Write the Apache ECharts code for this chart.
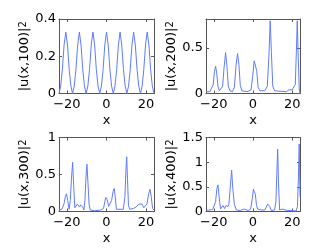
<!DOCTYPE html>
<html><head><meta charset="utf-8">
<script src="https://cdn.jsdelivr.net/npm/echarts@6/dist/echarts.min.js"></script>
<style>html,body{margin:0;padding:0;background:#fff}#c{width:332px;height:250px}</style>
</head><body><div id="c"></div>
<script>
// x range and ticks
const xRange = [-24, 24];
const xTicks = [-20, 0, 20];
const titles = ['|u(x,100)|', '|u(x,200)|', '|u(x,300)|', '|u(x,400)|'];
const yMax = [0.4, 0.82, 1, 1.5];
const yTicks = [[0, 0.2, 0.4], [0, 0.5], [0, 0.5, 1], [0, 0.5, 1, 1.5]];

const u100 = [[-24,0],[-23.14,0.04],[-22.29,0.13],[-21.43,0.26],[-20.57,0.33],[-19.71,0.26],[-18.86,0.13],[-18.0,0.04],
[-17.14,0],[-16.29,0.04],[-15.43,0.13],[-14.57,0.26],[-13.71,0.33],[-12.86,0.26],[-12.0,0.13],[-11.14,0.04],
[-10.29,0],[-9.43,0.04],[-8.57,0.13],[-7.71,0.26],[-6.86,0.33],[-6.0,0.26],[-5.14,0.13],[-4.29,0.04],
[-3.43,0],[-2.57,0.04],[-1.71,0.13],[-0.86,0.26],[0,0.33],[0.86,0.26],[1.71,0.13],[2.57,0.04],
[3.43,0],[4.29,0.04],[5.14,0.13],[6.0,0.26],[6.86,0.33],[7.71,0.26],[8.57,0.13],[9.43,0.04],
[10.29,0],[11.14,0.04],[12.0,0.13],[12.86,0.26],[13.71,0.33],[14.57,0.26],[15.43,0.13],[16.29,0.04],
[17.14,0],[18.0,0.04],[18.86,0.13],[19.71,0.26],[20.57,0.33],[21.43,0.26],[22.29,0.13],[23.14,0.04],[24,0]];

const u200 = [[-24,0.02],[-22,0.02],[-21,0.03],[-20.3,0.1],[-19.7,0.24],[-19.1,0.3],[-18.5,0.22],[-17.9,0.08],[-17.2,0.03],
[-16.5,0.03],[-15.5,0.08],[-14.8,0.28],[-14.0,0.45],[-13.3,0.3],[-12.6,0.08],[-11.8,0.03],[-10.5,0.02],[-9.5,0.07],
[-8.7,0.3],[-7.9,0.44],[-7.2,0.32],[-6.5,0.09],[-5.7,0.03],[-3,0.02],[-1,0.04],[-0.1,0.2],[0.6,0.36],[1.2,0.38],
[1.9,0.25],[2.6,0.07],[3.5,0.03],[6,0.03],[7.3,0.08],[8.1,0.4],[8.8,0.80],[9.4,0.45],[10.1,0.08],[11,0.03],
[17,0.02],[18.3,0.04],[19.2,0.06],[20,0.04],[21,0.02],[21.6,0.1],[22.2,0.5],[22.6,0.80],[23.1,0.4],[23.6,0.05],[24,0]];

const u300 = [[-24,0.02],[-22.5,0.03],[-21.5,0.1],[-20.8,0.2],[-20.2,0.24],[-19.6,0.15],[-18.9,0.03],[-18.3,0.15],
[-17.7,0.45],[-17.1,0.665],[-16.6,0.35],[-16.0,0.05],[-15.3,0.04],[-14.8,0.1],[-14.4,0.125],[-14.0,0.09],[-13.6,0.06],
[-13.1,0.09],[-12.6,0.10],[-12.0,0.06],[-11.4,0.02],[-10.9,0.15],[-10.4,0.45],[-9.9,0.64],[-9.4,0.4],[-8.8,0.1],
[-8.2,0.02],[-6,0.01],[-3,0.02],[-1.5,0.04],[-0.8,0.14],[-0.35,0.19],[0.3,0.16],[1.1,0.07],[1.8,0.07],[2.6,0.15],
[3.3,0.27],[3.9,0.31],[4.4,0.2],[5,0.03],[6,0.02],[8.5,0.03],[9.3,0.2],[9.8,0.55],[10.2,0.74],[10.6,0.45],[11.1,0.08],
[11.8,0.03],[13.5,0.04],[15,0.06],[16.3,0.1],[17.2,0.125],[18.0,0.1],[18.8,0.05],[19.6,0.04],[20.4,0.1],[21.3,0.24],
[22.0,0.30],[22.6,0.2],[23.3,0.04],[24,0.02]];

const u400 = [[-24,0.02],[-22.5,0.03],[-21.5,0.05],[-20.6,0.04],[-19.8,0.06],[-19.1,0.2],[-18.5,0.45],[-17.9,0.54],
[-17.3,0.3],[-16.6,0.05],[-15.9,0.09],[-15.3,0.12],[-14.8,0.08],[-14.5,0.06],[-13.9,0.12],[-13.3,0.15],[-12.8,0.1],
[-12.3,0.15],[-11.6,0.5],[-10.9,0.84],[-10.3,0.45],[-9.5,0.14],[-8.5,0.03],[-6.5,0.02],[-5.5,0.05],[-4.5,0.05],
[-3.8,0.04],[-2.5,0.02],[-1.2,0.05],[-0.4,0.25],[0.2,0.45],[0.66,0.49],[1.2,0.35],[1.8,0.12],[2.4,0.05],[4,0.03],
[6,0.03],[6.9,0.07],[7.5,0.15],[8.0,0.19],[8.6,0.1],[9.3,0.02],[11,0.03],[11.7,0.2],[12.2,0.8],[12.6,1.265],[13.0,0.6],
[13.6,0.03],[14.3,0.04],[14.8,0.05],[15.5,0.02],[17.5,0.02],[18.2,0.04],[19,0.02],[22,0.01],[22.7,0.1],[23.2,0.7],
[23.6,1.37],[24,0.3]];

const seriesData = [u100, u200, u300, u400];

const FONT = 'DejaVu Sans';
const AXC = '#555';
const LINE = '#5f7bff';
const grids = [
  {left: 59, top: 19, width: 95, height: 74.5},
  {left: 206, top: 19, width: 94, height: 74.5},
  {left: 59, top: 137.5, width: 95, height: 74},
  {left: 206, top: 137.5, width: 94, height: 74}
];
const fmtNum = v => String(v).replace('-', '\u2212');
const xAxis = [], yAxis = [], series = [];
grids.forEach((g, i) => {
  g.outerBoundsMode = 'none';
  g.containLabel = false;
  const common = {min: xRange[0], max: xRange[1], splitLine: {show: false},
    axisLine: {show: true, onZero: false, lineStyle: {color: AXC, width: 1}}};
  xAxis.push(Object.assign({}, common, {type: 'value', gridIndex: i, position: 'bottom',
    name: 'x', nameLocation: 'middle', nameGap: 21,
    nameTextStyle: {fontFamily: FONT, fontSize: 13, color: '#000'},
    axisTick: {show: true, inside: true, length: 3, customValues: xTicks, lineStyle: {color: AXC}},
    axisLabel: {show: true, customValues: xTicks, margin: 5, formatter: fmtNum,
      fontFamily: FONT, fontSize: 13, color: '#000'}}));
  xAxis.push(Object.assign({}, common, {type: 'value', gridIndex: i, position: 'top',
    axisTick: {show: true, inside: true, length: 3, customValues: xTicks, lineStyle: {color: AXC}},
    axisLabel: {show: false}}));
  const ycommon = {min: 0, max: yMax[i], splitLine: {show: false},
    axisLine: {show: true, onZero: false, lineStyle: {color: AXC, width: 1}}};
  yAxis.push(Object.assign({}, ycommon, {type: 'value', gridIndex: i, position: 'left',
    name: titles[i] + '{s|2}', nameLocation: 'middle', nameRotate: 90, nameGap: 25,
    nameTextStyle: {fontFamily: FONT, fontSize: 13, color: '#000',
      rich: {s: {fontFamily: FONT, fontSize: 10, color: '#000', verticalAlign: 'top'}}},
    axisTick: {show: true, inside: true, length: 3, customValues: yTicks[i], lineStyle: {color: AXC}},
    axisLabel: {show: true, customValues: yTicks[i], margin: 3, formatter: fmtNum,
      fontFamily: FONT, fontSize: 13, color: '#000'}}));
  yAxis.push(Object.assign({}, ycommon, {type: 'value', gridIndex: i, position: 'right',
    axisTick: {show: true, inside: true, length: 3, customValues: yTicks[i], lineStyle: {color: AXC}},
    axisLabel: {show: false}}));
  series.push({type: 'line', xAxisIndex: 2 * i, yAxisIndex: 2 * i, data: seriesData[i],
    showSymbol: false, symbol: 'none', animation: false,
    lineStyle: {color: LINE, width: 1}});
});
const chart = echarts.init(document.getElementById('c'), null, {renderer: 'canvas'});
chart.setOption({animation: false, grid: grids, xAxis, yAxis, series});
</script></body></html>
